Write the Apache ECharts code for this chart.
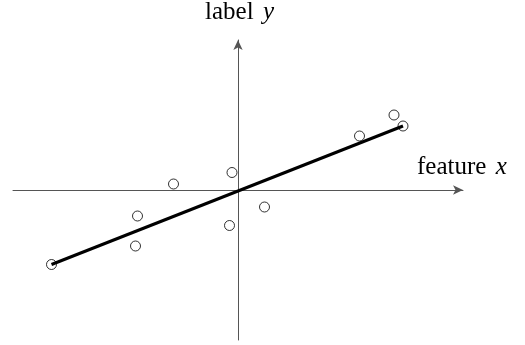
<!DOCTYPE html>
<html>
<head>
<meta charset="utf-8" />
<style>
  html, body { margin: 0; padding: 0; background: #fff; }
  #main { width: 525px; height: 345px; }
</style>
</head>
<body>
<div id="main"></div>
<script src="https://cdn.jsdelivr.net/npm/echarts@6/dist/echarts.min.js"></script>
<script>
// sample points (feature x, label y)
var pointsX = [-3.73, -2.01, -2.05, -1.29, -0.12, -0.17, 0.53, 2.43, 3.12, 3.30];
var pointsY = [-1.49, -0.52, -1.12, 0.12, 0.35, -0.71, -0.34, 1.08, 1.50, 1.28];
// fitted line endpoints
var fitX = [-3.73, 3.30];
var fitY = [-1.49, 1.28];

var chart = echarts.init(document.getElementById('main'));

var scatterData = pointsX.map(function (x, i) { return [x, pointsY[i]]; });
var lineData = fitX.map(function (x, i) { return [x, fitY[i]]; });

var axisCommon = {
  type: 'value',
  splitLine: { show: false },
  axisTick: { show: false },
  axisLabel: { show: false },
  axisLine: {
    onZero: true,
    symbol: ['none', 'arrow'],
    symbolSize: [7, 10],
    lineStyle: { color: '#555', width: 1 }
  }
};

var rich = {
  r: { fontFamily: 'Liberation Serif', fontSize: 25, fill: '#000' },
  i: { fontFamily: 'Liberation Serif', fontStyle: 'italic', fontSize: 25, fill: '#000', padding: [0, 0, 0, 6] }
};

var option = {
  animation: false,
  backgroundColor: '#fff',
  grid: { left: 13, right: 62, top: 40, bottom: 5 },
  xAxis: Object.assign({}, axisCommon, { min: -4.5, max: 4.5 }),
  yAxis: Object.assign({}, axisCommon, { min: -3, max: 3 }),
  series: [
    {
      type: 'line',
      data: lineData,
      showSymbol: false,
      lineStyle: { color: '#000', width: 3 },
      z: 2
    },
    {
      type: 'scatter',
      data: scatterData,
      symbol: 'circle',
      symbolSize: 10,
      itemStyle: { color: 'rgba(255,255,255,0)', borderColor: '#000', borderWidth: 1 },
      z: 3
    }
  ],
  graphic: [
    {
      type: 'text',
      left: 205, top: 0,
      style: { rich: rich, text: '{r|label} {i|y}' }
    },
    {
      type: 'text',
      left: 417, top: 155,
      style: { rich: rich, text: '{r|feature} {i|x}' }
    }
  ]
};
chart.setOption(option);
</script>
</body>
</html>
